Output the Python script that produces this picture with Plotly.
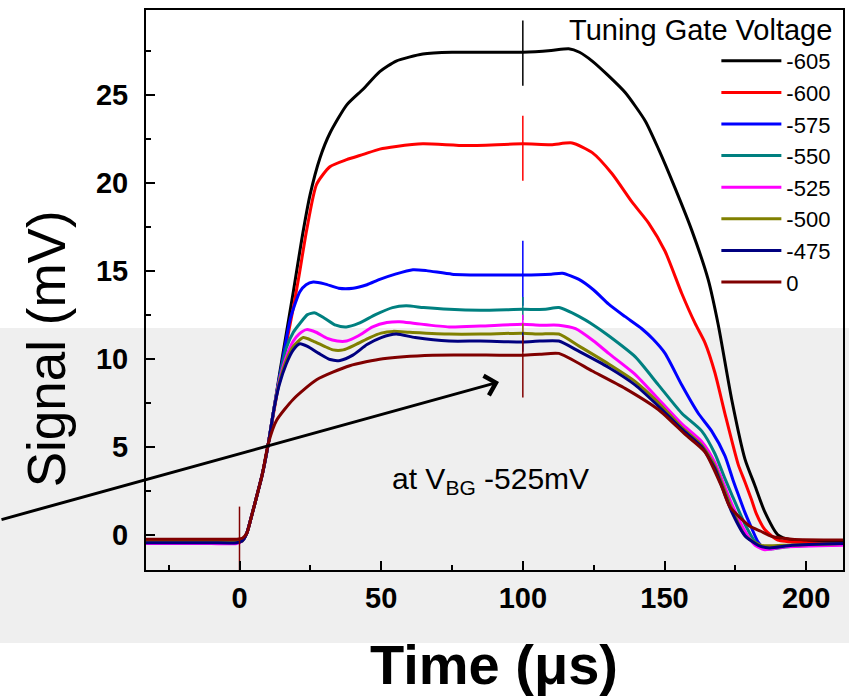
import plotly.graph_objects as go

# ---------------- data ----------------
labels = ["-605", "-600", "-575", "-550", "-525", "-500", "-475", "0"]
colors = ["#000000", "#ff0000", "#0000ff", "#008080", "#ff00ff", "#808000", "#000080", "#800000"]

t_605 = [-33, -20, -10, -1, 1, 2.6, 4, 6.1, 8, 10.2, 14.3, 19, 22, 24.9, 28.4, 31.9, 37.8, 43.6, 49.5, 55.3, 64.7, 75, 90,
         100, 110, 116.2, 120, 124.5, 130, 136.2, 143.2, 147.9, 153.7, 159.6, 165.4, 169, 173.7, 178.4,
         181.9, 185.4, 190, 195, 200, 213]
v_605 = [-0.35, -0.35, -0.35, -0.35, -0.3, 0.1, 0.9, 2.2, 3.4, 5.2, 9.3, 13.8, 16.8, 19.3, 21.4, 22.8, 24.4, 25.3, 26.3, 26.9,
         27.3, 27.4, 27.4, 27.4, 27.5, 27.6, 27.4, 26.9, 26.1, 25.1, 23.5, 21.9, 19.7, 17.3, 14.5, 11.9,
         7.7, 4.3, 2.8, 1.3, 0.0, -0.3, -0.35, -0.4]

t_600 = [-33, -20, -10, -1, 1, 2.6, 4, 6.1, 8, 10.2, 14.3, 19, 21, 23.7, 27.2, 31.9, 37.8, 43.7, 49.5, 55.3, 64.7, 80,
         100, 110, 117.4, 124.5, 131.5, 138.5, 144.4, 150.2, 156.1, 160.8, 164.3, 167.8, 171.3, 176,
         178.4, 180.7, 182.4, 185.4, 190, 200, 213]
v_600 = [-0.35, -0.35, -0.35, -0.35, -0.3, 0.1, 0.9, 2.2, 3.4, 5.2, 9.0, 12.9, 14.7, 17.3, 19.9, 20.9, 21.3, 21.6, 21.9, 22.05,
         22.2, 22.1, 22.2, 22.15, 22.25, 21.7, 20.5, 18.9, 17.7, 16.1, 13.7, 12.0, 10.9, 9.2, 6.9, 4.0,
         3.0, 2.0, 1.2, 0.3, -0.3, -0.45, -0.55]

t_575 = [-33, -20, -10, -1, 1, 2.6, 4, 6.1, 8, 10.2, 12.5, 15.5, 18, 21.3, 23.5, 26, 30, 35, 40.1, 45, 49.5, 55, 61.2, 66,
         75, 85, 100, 110, 114, 119.8, 125, 130.3, 136, 142, 146, 150.2, 156.1, 161.9, 166.6, 171.3,
         174.2, 176, 178.3, 180.7, 183, 185.5, 190, 200, 213]
v_575 = [-0.45, -0.45, -0.45, -0.45, -0.35, 0.1, 0.9, 2.2, 3.4, 5.2, 7.5, 10.2, 12.3, 13.8, 14.2, 14.35, 14.25, 14.0, 14.0,
         14.2, 14.5, 14.8, 15.05, 15.0, 14.8, 14.75, 14.75, 14.8, 14.85, 14.5, 13.9, 13.1, 12.4, 11.7,
         11.1, 10.3, 8.5, 6.9, 5.9, 4.5, 3.1, 2.3, 1.3, 0.4, -0.4, -0.8, -0.7, -0.6, -0.55]

t_550 = [-33, -20, -10, -1, 1, 2.6, 4, 6.1, 8, 10.2, 12, 14, 16.5, 19, 21.3, 24, 26.6, 30, 34, 37.7, 42, 48, 54, 58.8, 65,
         74, 85, 100, 108, 112.7, 119.8, 125, 130.3, 139.7, 147.9, 156.1, 163.1, 167.8, 171.3, 173.7,
         178.4, 182, 185, 188, 195, 213]
v_550 = [-0.45, -0.45, -0.45, -0.45, -0.35, 0.1, 0.9, 2.2, 3.4, 5.2, 7.0, 8.8, 10.6, 11.5, 12.0, 12.5, 12.6, 12.3, 11.9,
         11.8, 12.0, 12.5, 12.9, 13.0, 12.9, 12.8, 12.75, 12.8, 12.8, 12.9, 12.4, 11.9, 11.3, 10.1, 8.5,
         6.9, 5.9, 4.6, 3.2, 2.3, 0.6, -0.4, -0.75, -0.8, -0.65, -0.55]

t_525 = [-33, -20, -10, -1, 1, 2.6, 4, 6.1, 8, 10.2, 12, 14, 16.5, 19, 21, 23.7, 27, 31, 34.5, 37.8, 42, 47, 52, 56.5, 62,
         74, 85, 100, 106, 112.7, 118.6, 125, 130.3, 139.7, 147.9, 156.1, 163.1, 167.8, 173.6, 178.4,
         182, 185.4, 192, 213]
v_525 = [-0.5, -0.5, -0.5, -0.5, -0.35, 0.1, 0.9, 2.2, 3.4, 5.2, 7.0, 8.7, 10.1, 11.0, 11.4, 11.65, 11.5, 11.15, 11.0, 11.0,
         11.3, 11.8, 12.05, 12.1, 12.0, 11.8, 11.85, 11.95, 11.9, 11.9, 11.7, 11.0, 10.3, 9.1, 7.7, 6.3,
         5.3, 4.1, 1.8, 0.2, -0.6, -0.85, -0.7, -0.6]

t_500 = [-33, -20, -10, -1, 1, 2.6, 4, 6.1, 8, 10.2, 12, 14, 16.5, 19, 22.5, 26, 30, 33, 36.6, 41, 46, 50, 54.2, 60, 74, 85,
         100, 106, 112.7, 120, 130.3, 139.7, 147.9, 156.1, 163.1, 167.8, 173.6, 178.4, 184.3, 192, 213]
v_500 = [-0.4, -0.4, -0.4, -0.4, -0.35, 0.1, 0.9, 2.2, 3.4, 5.2, 7.0, 8.6, 9.9, 10.7, 11.2, 11.0, 10.7, 10.5, 10.5, 10.8,
         11.2, 11.45, 11.55, 11.5, 11.4, 11.4, 11.45, 11.4, 11.4, 10.7, 9.7, 8.7, 7.5, 6.1, 5.1, 3.9,
         1.55, -0.05, -0.6, -0.6, -0.5]

t_475 = [-33, -20, -10, -1, 1, 2.6, 4, 6.1, 8, 10.2, 12, 14, 16.5, 19, 21.3, 24, 28, 32, 35.5, 40, 45, 50, 55.3, 62, 74, 85,
         100, 106, 112.7, 120, 130.3, 139.7, 147.9, 156.1, 163.1, 167.8, 173.6, 178.4, 183.1, 187, 195, 213]
v_475 = [-0.45, -0.45, -0.45, -0.45, -0.35, 0.1, 0.9, 2.2, 3.4, 5.2, 7.0, 8.5, 9.7, 10.5, 10.85, 10.7, 10.3, 9.95, 9.9,
         10.2, 10.8, 11.2, 11.4, 11.2, 11.0, 11.0, 10.95, 11.0, 11.0, 10.4, 9.5, 8.5, 7.3, 6.0, 5.0,
         3.75, 1.35, -0.05, -0.6, -0.75, -0.6, -0.5]

t_0 = [-33, -20, -10, -1, 1, 2.6, 4, 6.1, 8, 10.2, 13.1, 19, 27.2, 38.9, 50.6, 68.2, 91.7,
       100, 106, 112.7, 124.5, 136.2, 147.9, 157.3, 164.3, 170, 173, 176.5, 180, 184, 188, 195, 213]
v_0 = [-0.25, -0.25, -0.25, -0.25, -0.2, 0.1, 0.9, 2.2, 3.4, 5.2, 6.5, 7.7, 8.8, 9.6, 10.0, 10.2, 10.2,
       10.2, 10.25, 10.3, 9.3, 8.3, 7.1, 5.7, 4.7, 2.8, 1.6, 1.0, 0.5, 0.2, -0.1, -0.25, -0.3]

times = [t_605, t_600, t_575, t_550, t_525, t_500, t_475, t_0]
signals = [v_605, v_600, v_575, v_550, v_525, v_500, v_475, v_0]

# glitch spikes seen at t = 100 us (every trace) and t = 0 us (trace "0")
spike_t = [100, 100, 100, 100, 100, 100, 100, 100]
spike_top = [29.2, 23.8, 16.7, 13.5, 12.5, 12.0, 11.5, 11.3]
spike_bottom = [25.5, 20.1, 13.0, 12.2, 11.4, 11.0, 10.4, 7.8]
spike0_t = 0
spike0_top = 1.6
spike0_bottom = -2.0

x_ticks = [0, 50, 100, 150, 200]
y_ticks = [0, 5, 10, 15, 20, 25]

# ---------------- figure ----------------
W, H = 849, 700
ML, MR, MT, MB = 146, 4, 10, 130
PW, PH = W - ML - MR, H - MT - MB


def px(xp):
    return (xp - ML) / PW


def py(yp):
    return (H - MB - yp) / PH


fig = go.Figure()
for i, (t, v, lab, col) in enumerate(zip(times, signals, labels, colors)):
    fig.add_trace(go.Scatter(x=t, y=v, mode="lines", name=lab, legendgroup=lab,
                             line=dict(color=col, width=3, shape="spline", smoothing=0.6)))
    sx = [spike_t[i], spike_t[i]]
    sy = [spike_top[i], spike_bottom[i]]
    if lab == "0":
        sx += [None, spike0_t, spike0_t]
        sy += [None, spike0_top, spike0_bottom]
    fig.add_trace(go.Scatter(x=sx, y=sy, mode="lines", name=lab, legendgroup=lab, showlegend=False,
                             line=dict(color=col, width=1.5)))

FONT = "Liberation Sans, Arial, sans-serif"

axis_common = dict(showline=True, linecolor="black", linewidth=2, mirror=True,
                   ticks="inside", tickcolor="black", tickwidth=2, ticklen=9,
                   showgrid=False, zeroline=False,
                   tickfont=dict(family=FONT, size=29, color="black", weight="bold"))

fig.update_xaxes(range=[-33, 213], tickvals=x_ticks,
                 minor=dict(ticks="inside", ticklen=5, tickwidth=2, tickcolor="black", dtick=25, tick0=0),
                 ticklabelstandoff=1, **axis_common)
fig.update_yaxes(range=[-2, 29.8], tickvals=y_ticks,
                 minor=dict(ticks="inside", ticklen=5, tickwidth=2, tickcolor="black", dtick=2.5, tick0=0),
                 ticklabelstandoff=10, **axis_common)

fig.update_layout(
    width=W, height=H,
    margin=dict(l=ML, r=MR, t=MT, b=MB, pad=0),
    paper_bgcolor="white", plot_bgcolor="rgba(0,0,0,0)",
    font=dict(family=FONT, color="black"),
    showlegend=True,
    legend=dict(x=px(718), y=py(40), xanchor="left", yanchor="top",
                bgcolor="rgba(0,0,0,0)", borderwidth=0, itemwidth=60,
                font=dict(family=FONT, size=22, color="black"), tracegroupgap=0),
    shapes=[dict(type="rect", xref="paper", yref="paper", layer="below",
                 x0=px(-5), x1=px(W + 5), y0=py(643), y1=py(328),
                 fillcolor="#efefef", line=dict(width=0))],
    annotations=[
        dict(text="Tuning Gate Voltage", xref="paper", yref="paper", x=px(836), y=py(30),
             xanchor="right", yanchor="middle", showarrow=False,
             font=dict(family=FONT, size=29, color="black")),
        dict(text="at V<sub>BG</sub> -525mV", xref="paper", yref="paper", x=px(491), y=py(480),
             xanchor="center", yanchor="middle", showarrow=False,
             font=dict(family=FONT, size=30, color="black")),
        dict(text="Signal (mV)", xref="paper", yref="paper", x=px(46), y=py(349),
             xanchor="center", yanchor="middle", textangle=-90, showarrow=False,
             font=dict(family=FONT, size=53, color="black")),
        dict(text="<b>Time (μs)</b>", xref="paper", yref="paper", x=px(495), y=py(631),
             xanchor="center", yanchor="top", showarrow=False,
             font=dict(family=FONT, size=56, color="black")),
        dict(text="", xref="paper", yref="paper", x=px(500), y=py(382),
             ax=-500, ay=138, axref="pixel", ayref="pixel",
             showarrow=True, arrowhead=4, arrowsize=1.3, arrowwidth=3, arrowcolor="black", standoff=0),
    ],
)

fig.write_html("out.html")
